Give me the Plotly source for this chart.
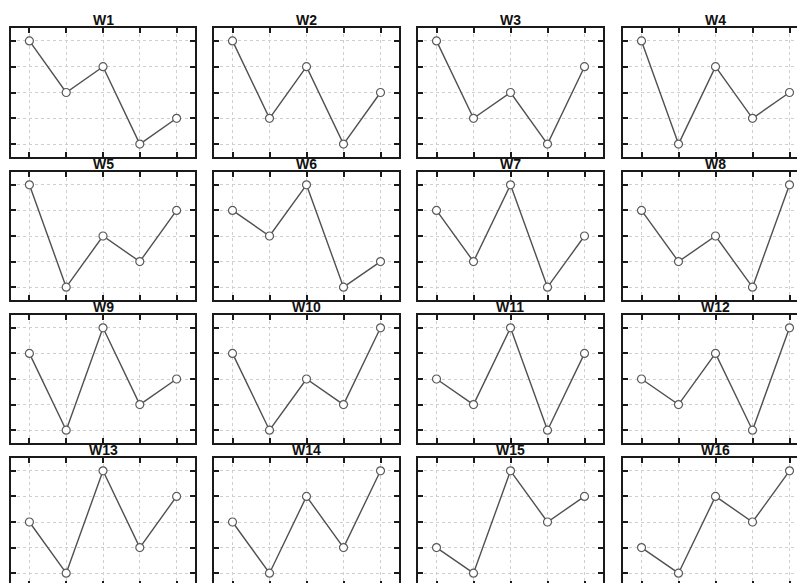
import plotly.graph_objects as go

positions = [1, 2, 3, 4, 5]
titles = ["W%d" % i for i in range(1, 17)]

w1 = [5, 3, 4, 1, 2]
w2 = [5, 2, 4, 1, 3]
w3 = [5, 2, 3, 1, 4]
w4 = [5, 1, 4, 2, 3]
w5 = [5, 1, 3, 2, 4]
w6 = [4, 3, 5, 1, 2]
w7 = [4, 2, 5, 1, 3]
w8 = [4, 2, 3, 1, 5]
w9 = [4, 1, 5, 2, 3]
w10 = [4, 1, 3, 2, 5]
w11 = [3, 2, 5, 1, 4]
w12 = [3, 2, 4, 1, 5]
w13 = [3, 1, 5, 2, 4]
w14 = [3, 1, 4, 2, 5]
w15 = [2, 1, 5, 3, 4]
w16 = [2, 1, 4, 3, 5]
series = [w1, w2, w3, w4, w5, w6, w7, w8, w9, w10, w11, w12, w13, w14, w15, w16]

W, H = 805, 583
# page body adds an 8px offset, so panel frames are given in figure pixels
cols = [(3, 187), (206, 391), (410, 595), (615, 800)]
rows = [(20, 149), (164, 292), (307, 435), (450, 578)]
title_x = [95, 298, 502, 707]

fig = go.Figure()
annotations = []
for i, ys in enumerate(series):
    r, c = divmod(i, 4)
    l, rt = cols[c]
    t, b = rows[r]
    n = "" if i == 0 else str(i + 1)
    fig.add_trace(go.Scatter(
        x=positions, y=ys, mode="lines+markers", xaxis="x" + n, yaxis="y" + n,
        line=dict(color="#505050", width=1.4),
        marker=dict(symbol="circle", size=8, color="white",
                    line=dict(color="#5a5a5a", width=1.2)),
        showlegend=False, hoverinfo="skip"))
    common = dict(showline=True, linecolor="#1a1a1a", linewidth=2, mirror="ticks",
                  ticks="inside", ticklen=5, tickwidth=1.5, tickcolor="#1a1a1a",
                  showticklabels=False, showgrid=True, gridcolor="#cfcfcf",
                  griddash="dot", gridwidth=1, zeroline=False,
                  tickvals=positions, range=[0.5, 5.5], fixedrange=True)
    fig.layout["xaxis" + n] = dict(common, domain=[l / W, rt / W], anchor="y" + n)
    fig.layout["yaxis" + n] = dict(common, domain=[1 - b / H, 1 - t / H],
                                   anchor="x" + n)
    annotations.append(dict(text="<b>%s</b>" % titles[i], x=title_x[c] / W,
                            y=1 - t / H, xref="paper", yref="paper",
                            xanchor="center", yanchor="bottom", showarrow=False,
                            yshift=-2,
                            font=dict(family="Liberation Sans, Arial", size=14,
                                      color="#111111")))

fig.update_layout(width=W, height=H, margin=dict(l=0, r=0, t=0, b=0),
                  paper_bgcolor="white", plot_bgcolor="white",
                  annotations=annotations)
fig.write_html("out.html", config={"displayModeBar": False})
